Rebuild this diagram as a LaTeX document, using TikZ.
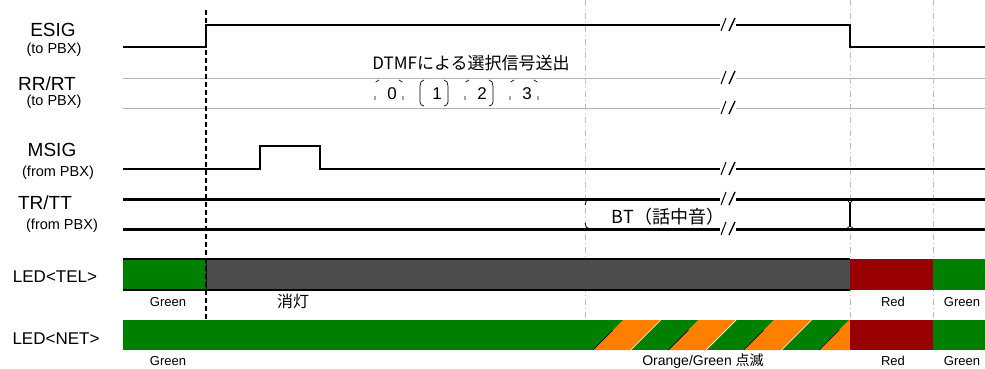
\documentclass[tikz,border=0pt]{standalone}
\usepackage{fontspec}
\setmainfont{Liberation Sans}
\newfontfamily\jp{Noto Sans CJK JP}
\definecolor{ledgreen}{RGB}{0,128,0}
\definecolor{ledgray}{RGB}{77,77,77}
\definecolor{ledred}{RGB}{153,0,0}
\definecolor{ledorange}{RGB}{255,128,0}
\tikzset{
	sig/.style={line width=1.8pt},
	wire/.style={gray!60, line width=0.8pt},
	bus/.style={line width=3pt},
	guide/.style={gray!50, line width=0.7pt, dash pattern=on 6pt off 3pt on 1pt off 3pt},
	lbl/.style={font=\fontsize{19}{19}\selectfont, inner sep=0pt},
	sublbl/.style={font=\fontsize{14.5}{15}\selectfont, inner sep=0pt},
	ledlbl/.style={font=\fontsize{13}{13}\selectfont, inner sep=0pt},
	jplbl/.style={font=\jp\fontsize{18}{18}\selectfont, inner sep=0pt},
	tonetick/.style={dash pattern=on 4pt off 14pt},
}
\begin{document}
\begin{tikzpicture}[x=1pt, y=-1pt]
	\useasboundingbox (0,0) rectangle (985,369);

	\foreach \x in {585, 850, 933} \draw[guide] (\x,0) -- (\x,320);

	\draw[sig] (123,47) -- (206,47) -- (206,25) -- (850,25) -- (850,47) -- (985,47);
	\draw[wire] (123,78) -- (985,78);
	\draw[wire] (123,108) -- (985,108);
	\draw[sig, line width=1.5pt] (123,169) -- (260,169) -- (260,146) -- (320,146) -- (320,169) -- (985,169);
	\draw[bus] (123,199) -- (985,199);
	\draw[bus] (123,229) -- (985,229);

	\foreach \y in {25, 78, 108, 169, 199, 229} {
		\fill[white] (720,\y-3) rectangle (736,\y+3);
		\draw[line width=1pt] (721,\y+6) -- (726,\y-7);
		\draw[line width=1.4pt] (729,\y+6) -- (735,\y-7);
	}

	\node[lbl] (esig) at (53,30) {ESIG};
	\node[sublbl] (esigsub) at (54,50) {(to PBX)};
	\node[lbl] (rrrt) at (47,84) {RR/RT};
	\node[sublbl] (rrrtsub) at (54,102) {(to PBX)};
	\node[lbl] (msig) at (52,150) {MSIG};
	\node[sublbl] (msigsub) at (58,173) {(from PBX)};
	\node[lbl] (trtt) at (45,203) {TR/TT};
	\node[sublbl] (trttsub) at (62,226) {(from PBX)};

	\node[font=\jp\fontsize{17}{17}\selectfont, inner sep=0pt] (dtmf) at (471,63) {DTMFによる選択信号送出};
	\foreach \n/\x/\l/\r in {0/392/tonetick/tonetick, 1/437/solid/solid, 2/482/tonetick/solid, 3/527/tonetick/tonetick} {
		\node[font=\fontsize{17}{17}\selectfont, inner sep=0pt] (digit\n) at (\x,94) {\n};
		\draw[\l, line width=0.7pt] (\x-13,80) to[out=180, in=90] (\x-17,86) -- (\x-17,102) to[out=-90, in=180] (\x-13,106);
		\draw[\r, line width=0.7pt] (\x+7,80) to[out=0, in=90] (\x+11,86) -- (\x+11,102) to[out=-90, in=0] (\x+7,106);
	}

	\draw[line width=0.8pt] (590,199) to[out=180, in=90] (585,205);
	\draw[line width=0.8pt] (585,223) to[out=-90, in=180] (590,229);
	\draw[line width=2pt] (850,203) -- (850,226);
	\draw[line width=0.7pt] (846,199) -- (850,203) -- (854,199);
	\draw[line width=0.7pt] (846,229) -- (850,226) -- (854,229);
	\node[jplbl] (bt) at (668,217) {BT（話中音）};

	\fill[ledgreen] (123,259) rectangle (206,290);
	\fill[ledgray] (206,259) rectangle (850,290);
	\fill[ledred] (850,259) rectangle (933,290);
	\fill[ledgreen] (933,259) rectangle (985,290);
	\draw[line width=1.2pt] (123,259) -- (850,259);
	\draw[line width=1.2pt] (123,290) -- (850,290);
	\draw[line width=1pt] (206,259) -- (206,290);

	\fill[ledgreen] (123,320) rectangle (850,350);
	\begin{scope}
		\clip (585,320) rectangle (850,350);
		\foreach \i in {0,...,3} {
			\fill[ledorange] (593+75.4*\i,350) -- (623+75.4*\i,320) -- (660.7+75.4*\i,320) -- (630.7+75.4*\i,350) -- cycle;
			\draw[line width=0.6pt] (593+75.4*\i,350) -- (613+75.4*\i,330);
			\draw[white, line width=0.6pt] (630.7+75.4*\i,350) -- (660.7+75.4*\i,320);
		}
	\end{scope}
	\fill[ledred] (850,320) rectangle (933,350);
	\fill[ledgreen] (933,320) rectangle (985,350);

	\draw[line width=2.8pt, dash pattern=on 5pt off 3pt] (206,10) -- (206,320);

	\node[font=\fontsize{17}{17}\selectfont, inner sep=0pt] (ledtel) at (55,277) {LED<TEL>};
	\node[font=\fontsize{17}{17}\selectfont, inner sep=0pt] (lednet) at (56,339) {LED<NET>};

	\node[ledlbl] (telgreen) at (168,302) {Green};
	\node[jplbl, font=\jp\fontsize{16}{16}\selectfont] (teloff) at (293,301) {消灯};
	\node[ledlbl] (telred) at (893,302) {Red};
	\node[ledlbl] (telgreenb) at (962,302) {Green};
	\node[ledlbl] (netgreen) at (168,361) {Green};
	\node[ledlbl, font=\fontsize{14}{14}\selectfont] (netblink) at (703,361) {Orange/Green {\jp 点滅}};
	\node[ledlbl] (netred) at (893,361) {Red};
	\node[ledlbl] (netgreenb) at (962,361) {Green};
\end{tikzpicture}
\end{document}
